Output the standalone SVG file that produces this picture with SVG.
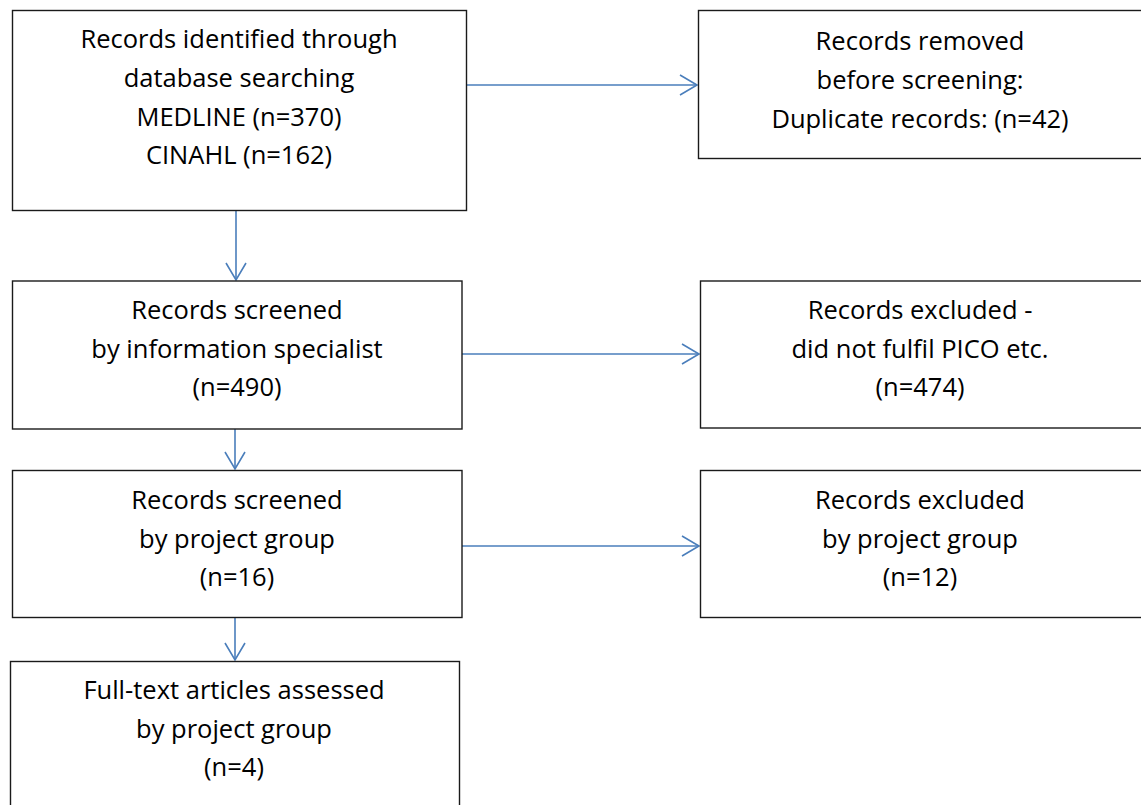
<svg xmlns="http://www.w3.org/2000/svg" width="1141" height="805" viewBox="0 0 1141 805">
<style>
.box{fill:#fff;stroke:#1a1a1a;stroke-width:1.4}
.t{font-family:"Open Sans","Liberation Sans",sans-serif;font-size:25.5px;fill:#000;text-anchor:middle}
.c{stroke:#4a7ebb;stroke-width:1.6;fill:none}
</style>
<defs>
<marker id="ah" viewBox="0 0 20 24" refX="18" refY="12" markerWidth="20" markerHeight="24" markerUnits="userSpaceOnUse" orient="auto">
<path d="M1,2 L18,12 L1,22" fill="none" stroke="#4a7ebb" stroke-width="1.6"/>
</marker>
</defs>
<rect width="1141" height="805" fill="#fff"/>
<g id="connectors">
<line class="c" x1="466" y1="85" x2="697" y2="85" marker-end="url(#ah)"/>
<line class="c" x1="236" y1="211" x2="236" y2="280" marker-end="url(#ah)"/>
<line class="c" x1="462" y1="354" x2="699" y2="354" marker-end="url(#ah)"/>
<line class="c" x1="235" y1="429" x2="235" y2="469" marker-end="url(#ah)"/>
<line class="c" x1="462" y1="546" x2="699" y2="546" marker-end="url(#ah)"/>
<line class="c" x1="235" y1="617" x2="235" y2="660" marker-end="url(#ah)"/>
</g>
<g id="n1">
<rect class="box" x="12.5" y="10.5" width="454" height="200"/>
<text class="t" x="239" y="48">Records identified through</text>
<text class="t" x="239" y="87">database searching</text>
<text class="t" x="239" y="126">MEDLINE (n=370)</text>
<text class="t" x="239" y="164">CINAHL (n=162)</text>
</g>
<g id="n2">
<rect class="box" x="698.5" y="10.5" width="450" height="148"/>
<text class="t" x="920" y="50">Records removed</text>
<text class="t" x="920" y="89">before screening:</text>
<text class="t" x="920" y="128">Duplicate records: (n=42)</text>
</g>
<g id="n3">
<rect class="box" x="12.5" y="281" width="449.5" height="148"/>
<text class="t" x="237" y="319">Records screened</text>
<text class="t" x="237" y="358">by information specialist</text>
<text class="t" x="237" y="396">(n=490)</text>
</g>
<g id="n4">
<rect class="box" x="700.5" y="281" width="450" height="147"/>
<text class="t" x="920" y="319">Records excluded -</text>
<text class="t" x="920" y="358">did not fulfil PICO etc.</text>
<text class="t" x="920" y="396">(n=474)</text>
</g>
<g id="n5">
<rect class="box" x="12.5" y="470.5" width="449.5" height="147"/>
<text class="t" x="237" y="509">Records screened</text>
<text class="t" x="237" y="548">by project group</text>
<text class="t" x="237" y="586">(n=16)</text>
</g>
<g id="n6">
<rect class="box" x="700.5" y="470.5" width="450" height="147"/>
<text class="t" x="920" y="509">Records excluded</text>
<text class="t" x="920" y="548">by project group</text>
<text class="t" x="920" y="586">(n=12)</text>
</g>
<g id="n7">
<rect class="box" x="10.5" y="661.5" width="449" height="160"/>
<text class="t" x="234" y="699">Full-text articles assessed</text>
<text class="t" x="234" y="738">by project group</text>
<text class="t" x="234" y="776">(n=4)</text>
</g>
</svg>
